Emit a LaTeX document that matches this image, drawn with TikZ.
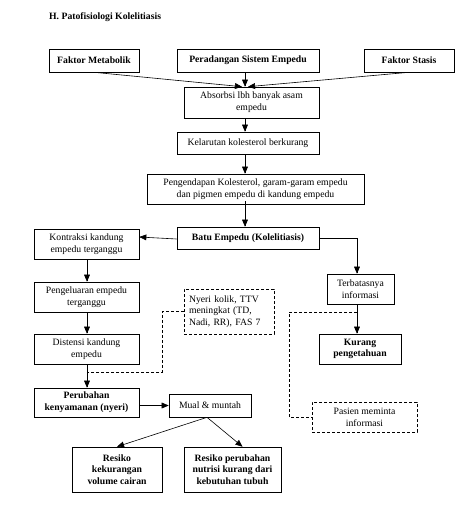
\documentclass[tikz,border=0pt]{standalone}
\usepackage{fontspec}
\setmainfont{Liberation Serif}
\usepackage{tikz}
\usetikzlibrary{arrows}

\tikzset{
  plainBox/.style={draw, line width=0.6pt, align=center, inner sep=2pt,
    font=\fontsize{9.7}{11.7}\selectfont},
  boldBox/.style={plainBox, font=\fontsize{9.7}{11.7}\selectfont\bfseries},
  dashBox/.style={plainBox, dash pattern=on 3pt off 2pt},
  flowLine/.style={->, >=triangle 45, line width=0.6pt},
  noteLine/.style={line width=0.6pt, dash pattern=on 3pt off 2pt}
}

\begin{document}
\begin{tikzpicture}[x=1pt,y=-1pt]
\useasboundingbox (0,0) rectangle (469,515);
\node[anchor=west, inner sep=0pt, font=\fontsize{9.7}{11.7}\selectfont\bfseries] (title) at (49,17) {H. Patofisiologi Kolelitiasis};
% top row
\node[boldBox, minimum width=90, minimum height=23] (meta) at (94,60.5) {Faktor Metabolik};
\node[boldBox, minimum width=142, minimum height=23] (perad) at (248,60.5) {Peradangan Sistem Empedu};
\node[boldBox, minimum width=90, minimum height=23] (stasis) at (409,60.5) {Faktor Stasis};
% main column
\node[plainBox, minimum width=135, minimum height=31] (absorb) at (251.5,102.5) {Absorbsi lbh banyak asam\\empedu};
\node[plainBox, minimum width=142, minimum height=22] (kelarut) at (248,143) {Kelarutan kolesterol berkurang};
\node[plainBox, minimum width=217, minimum height=30] (endap) at (255.5,189) {Pengendapan Kolesterol, garam-garam empedu\\dan pigmen empedu di kandung empedu};
\node[boldBox, minimum width=142, minimum height=22] (batu) at (248,238) {Batu Empedu (Kolelitiasis)};
% left column
\node[plainBox, minimum width=105, minimum height=30] (kontraksi) at (86.5,244) {Kontraksi kandung\\empedu terganggu};
\node[plainBox, minimum width=105, minimum height=30] (keluar) at (86.5,297) {Pengeluaran empedu\\terganggu};
\node[plainBox, minimum width=105, minimum height=30] (distensi) at (86.5,349) {Distensi kandung\\empedu};
\node[dashBox, text width=80, inner xsep=5pt, align=left, minimum height=45] (nyeri) at (229,311.5) {Nyeri kolik, TTV\\meningkat (TD,\\Nadi, RR), FAS 7};
\node[boldBox, minimum width=105, minimum height=29] (perubahan) at (86.5,402.5) {Perubahan\\kenyamanan (nyeri)};
\node[plainBox, minimum width=82, minimum height=23] (mual) at (210,405.5) {Mual \& muntah};
\node[boldBox, minimum width=90, minimum height=45] (resikoA) at (117,469.5) {Resiko\\kekurangan\\volume cairan};
\node[boldBox, minimum width=97, minimum height=45] (resikoB) at (232.5,469.5) {Resiko perubahan\\nutrisi kurang dari\\kebutuhan tubuh};
% right column
\node[plainBox, minimum width=67, minimum height=30] (terbatas) at (360.5,289) {Terbatasnya\\informasi};
\node[boldBox, minimum width=82, minimum height=30] (kurang) at (360,349) {Kurang\\pengetahuan};
\node[dashBox, minimum width=105, minimum height=30] (pasien) at (364.5,417) {Pasien meminta\\informasi};

\coordinate (spine) at (245,0);
\coordinate (leftSpine) at (87,0);
\coordinate (rightSpine) at (357,0);
% arrows
\draw[flowLine] (meta.south) -- ([xshift=-3]spine |- absorb.north);
\draw[flowLine] (spine |- perad.south) -- (spine |- absorb.north);
\draw[flowLine] (stasis.south) -- ([xshift=3]spine |- absorb.north);
\draw[flowLine] (spine |- absorb.south) -- (spine |- kelarut.north);
\draw[flowLine] (spine |- kelarut.south) -- (spine |- endap.north);
\draw[flowLine] ([yshift=3]spine |- endap.south) -- (spine |- batu.north);
\draw[flowLine] ([yshift=-1]batu.west) -- (kontraksi.east |- 0,237);
\draw[flowLine] (batu.east) -| (rightSpine |- terbatas.north);
\draw[flowLine] (leftSpine |- kontraksi.south) -- (leftSpine |- keluar.north);
\draw[flowLine] (leftSpine |- keluar.south) -- (leftSpine |- distensi.north);
\draw[flowLine] (leftSpine |- distensi.south) -- (leftSpine |- perubahan.north);
\draw[flowLine] (perubahan.east |- mual.west) -- (mual.west);
\draw[flowLine] ([xshift=-3]mual.south) -- (resikoA.north);
\draw[flowLine] ([xshift=-3]mual.south) -- ([xshift=10]resikoB.north);
\draw[flowLine] (rightSpine |- terbatas.south) -- (rightSpine |- kurang.north);
% dashed notes
\coordinate (nyeriJoin) at (87,372);
\draw[noteLine] (nyeri.west) -- (162,311.5) -- (162,372) -- (nyeriJoin);
\coordinate (infoJoin) at (357,312);
\draw[noteLine] (infoJoin) -- (289,312) -- (289,417) -- (pasien.west);
\end{tikzpicture}
\end{document}
